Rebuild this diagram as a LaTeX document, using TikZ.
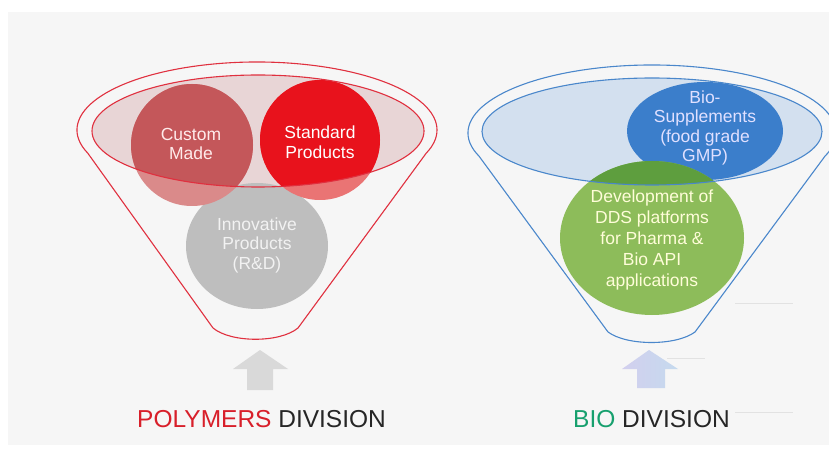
\documentclass[tikz,border=0pt]{standalone}
\usepackage{fontspec}
\setmainfont{Liberation Sans}
\definecolor{bgc}{HTML}{F6F6F6}
\definecolor{faintc}{HTML}{E2E2E2}
\definecolor{redline}{HTML}{E0303F}
\definecolor{redfill}{HTML}{E8D5D6}
\definecolor{cmlight}{HTML}{DA8A8A}
\definecolor{cmdark}{HTML}{C4575A}
\definecolor{splight}{HTML}{EA7474}
\definecolor{spdark}{HTML}{E8121C}
\definecolor{grayc}{HTML}{BEBEBE}
\definecolor{blueline}{HTML}{4A87CB}
\definecolor{bluefill}{HTML}{D3E0EF}
\definecolor{bioblue}{HTML}{3B7ECB}
\definecolor{greenlight}{HTML}{8DBC5A}
\definecolor{greendark}{HTML}{5E9E3E}
\definecolor{arrowgray}{HTML}{D9D9D9}
\definecolor{arrowblueA}{HTML}{D2CFEE}
\definecolor{arrowblueB}{HTML}{C5DAEE}
\definecolor{polyred}{HTML}{D81F2A}
\definecolor{biogreen}{HTML}{17A06E}
\definecolor{divdark}{HTML}{262626}
\tikzset{
  funnelline/.style={line width=1.1pt},
  lbl/.style={align=center, inner sep=0pt, font=\fontsize{17.5}{19.5}\selectfont},
  divlbl/.style={anchor=base west, inner sep=0pt, font=\fontsize{24.5}{28}\selectfont},
  faint/.style={draw=faintc, line width=0.8pt}
}
\begin{document}
\begin{tikzpicture}[x=1pt,y=1pt]
\useasboundingbox (0,0) rectangle (829,450);
\fill[white] (0,0) rectangle (829,450);
\fill[bgc] (8,5) rectangle (829,438);
% faint background lines
\draw[faint] (735,147) -- (793,147);
\draw[faint] (667,92) -- (705,92);
\draw[faint] (735,38) -- (793,38);

% ===== POLYMERS funnel =====
\fill[redfill] (258,319) ellipse [x radius=166, y radius=56];
\fill[grayc] (257,204) ellipse [x radius=71, y radius=63];
\fill[cmlight] (192,305) circle [radius=61];
\fill[splight] (320,310) circle [radius=60];
\begin{scope}
  \clip (258,319) ellipse [x radius=166, y radius=56];
  \fill[cmdark] (192,305) circle [radius=61];
  \fill[spdark] (320,310) circle [radius=60];
\end{scope}
\draw[redline, funnelline] (258,319) ellipse [x radius=166, y radius=56];
\draw[redline, funnelline, line join=round] (257,320) ++(200:180 and 68)
  arc [start angle=200, end angle=-20, x radius=180, y radius=68]
  -- (298,122) .. controls (280,107) and (231,107) .. (213,122) -- cycle;
\node[lbl, text=white!92!red] (custom) at (191,306) {Custom\\Made};
\node[lbl, text=white] (standard) at (320,308) {Standard\\Products};
\node[lbl, text=white!90!gray] (innov) at (257,205) {Innovative\\Products\\(R\&D)};

% ===== BIO funnel =====
\fill[bluefill] (652,318.5) ellipse [x radius=170, y radius=53.5];
\fill[bioblue] (705,319) ellipse [x radius=78, y radius=49];
\fill[greenlight] (652,212) ellipse [x radius=92, y radius=77];
\begin{scope}
  \clip (652,318.5) ellipse [x radius=170, y radius=53.5];
  \fill[greendark] (652,212) ellipse [x radius=92, y radius=77];
\end{scope}
\draw[blueline, funnelline] (652,318.5) ellipse [x radius=170, y radius=53.5];
\draw[blueline, funnelline, line join=round] (652,317) ++(200:184 and 68)
  arc [start angle=200, end angle=-20, x radius=184, y radius=68]
  -- (695,118) .. controls (676,104) and (627,104) .. (608,118) -- cycle;
\node[lbl, text=white!88!blue] (biosup) at (705,322) {Bio-\\Supplements\\(food grade\\GMP)};
\node[lbl, text=white!85!yellow, font=\fontsize{17.5}{21}\selectfont] (dds) at (652,210)
  {Development of\\DDS platforms\\for Pharma \&\\Bio API\\applications};

% ===== arrows =====
\fill[arrowgray] (247,60) -- (247,81) -- (233,81) -- (260,100) -- (288,81) -- (273,81) -- (273,60) -- cycle;
\shade[left color=arrowblueA, right color=arrowblueB] (637,62) -- (637,81) -- (622,81) -- (649,100) -- (678,81) -- (665,81) -- (665,62) -- cycle;

% ===== division labels =====
\node[divlbl] (poly) at (137,23) {\textcolor{polyred}{POLYMERS} \textcolor{divdark}{DIVISION}};
\node[divlbl] (bio) at (573,23) {\textcolor{biogreen}{BIO} \textcolor{divdark}{DIVISION}};
\end{tikzpicture}
\end{document}
